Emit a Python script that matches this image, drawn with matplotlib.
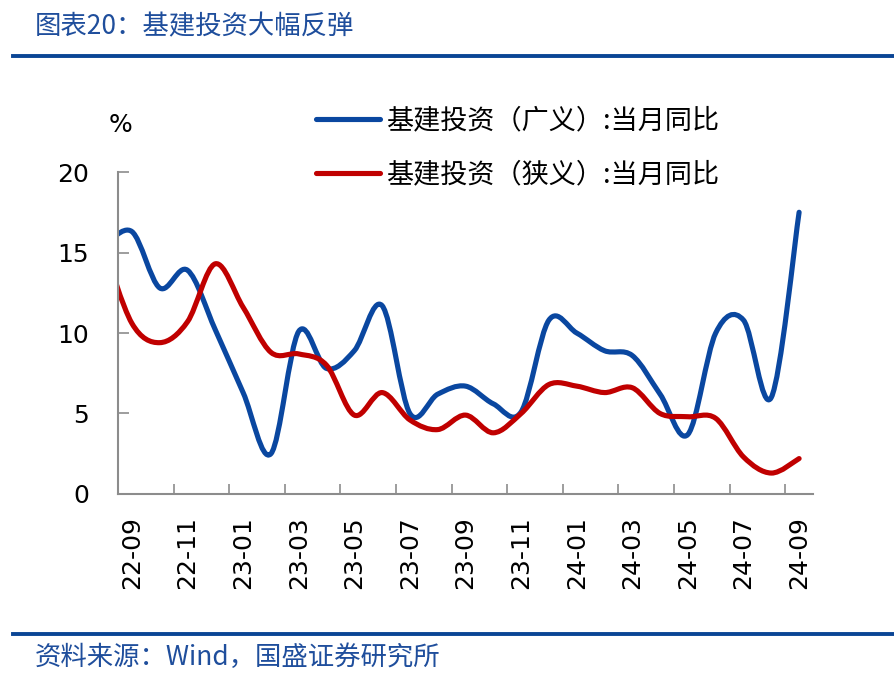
import numpy as np
import matplotlib
matplotlib.use('Agg')
import matplotlib.pyplot as plt
from matplotlib.path import Path
from matplotlib.patches import PathPatch
from matplotlib.lines import Line2D

plt.rcParams['font.family'] = ['DejaVu Sans', 'Noto Sans CJK SC']
plt.rcParams['axes.unicode_minus'] = False

# 月份（22-08 仅用于左端平滑，落在坐标轴外）
months = ['22-08', '22-09', '22-10', '22-11', '22-12', '23-01', '23-02', '23-03', '23-04',
          '23-05', '23-06', '23-07', '23-08', '23-09', '23-10', '23-11', '23-12',
          '24-01', '24-02', '24-03', '24-04', '24-05', '24-06', '24-07', '24-08', '24-09']
broad = [15.4, 16.3, 12.8, 13.9, 10.2, 6.3, 2.5, 10.1, 7.8, 8.9, 11.7, 5.0, 6.2, 6.7, 5.6,
         5.1, 10.8, 10.0, 8.9, 8.6, 6.2, 3.7, 10.0, 10.8, 6.0, 17.5]
narrow = [15.3, 10.6, 9.4, 10.7, 14.3, 11.6, 8.8, 8.7, 8.0, 4.9, 6.3, 4.6, 4.0, 4.9, 3.8,
          5.0, 6.8, 6.7, 6.3, 6.6, 5.0, 4.8, 4.7, 2.3, 1.3, 2.2]
tick_labels = months[1::2]

label_broad = '基建投资（广义）:当月同比'
label_narrow = '基建投资（狭义）:当月同比'
blue = '#0A47A0'
red = '#C00000'
gray = '#8C8C8C'
title_color = '#1F4E9C'


def smooth_path(xs, ys):
    # Excel 风格的平滑折线（Catmull-Rom 贝塞尔）
    pts = np.column_stack([xs, ys]).astype(float)
    n = len(pts)
    verts = [pts[0]]
    codes = [Path.MOVETO]
    for i in range(n - 1):
        p0 = pts[i - 1] if i > 0 else pts[i]
        p1 = pts[i]
        p2 = pts[i + 1]
        p3 = pts[i + 2] if i + 2 < n else pts[i + 1]
        verts += [p1 + (p2 - p0) / 6, p2 - (p3 - p1) / 6, p2]
        codes += [Path.CURVE4] * 3
    return Path(verts, codes)


x = np.arange(len(months)) - 1  # 22-09 -> 0

fig = plt.figure(figsize=(8.94, 6.84), dpi=100)
ax = fig.add_axes([0.132, 0.2778, 0.7774, 0.4707])

for ys, c in [(broad, blue), (narrow, red)]:
    patch = PathPatch(smooth_path(x, ys), fill=False, edgecolor=c, lw=3.7,
                      capstyle='round', joinstyle='round')
    ax.add_patch(patch)

ax.set_xlim(-0.5, 24.5)
ax.set_ylim(0, 20)
ax.set_yticks([0, 5, 10, 15, 20])
ax.set_xticks(np.arange(0, 25, 2))
ax.set_xticklabels(tick_labels, rotation=90)
ax.set_xticks(np.arange(-0.5, 24, 2), minor=True)

for s in ['top', 'right']:
    ax.spines[s].set_visible(False)
for s in ['left', 'bottom']:
    ax.spines[s].set_color(gray)
    ax.spines[s].set_linewidth(1.5)

ax.tick_params(axis='y', direction='in', length=8, width=1.2, color=gray, pad=21,
               labelsize=18)
ax.tick_params(axis='x', which='major', length=0, pad=16, labelsize=18)
ax.tick_params(axis='x', which='minor', direction='in', length=7, width=1.2, color=gray)

fig.text(120 / 894, 1 - 125 / 684, '%', fontsize=18, ha='center', va='center')

handles = [Line2D([], [], color=blue, lw=3.7, solid_capstyle='round'),
           Line2D([], [], color=red, lw=3.7, solid_capstyle='round')]
leg = ax.legend(handles, [label_broad, label_narrow], loc='upper left',
                bbox_to_anchor=(316 / 894, 1 - 107 / 684), bbox_transform=fig.transFigure,
                frameon=False, handlelength=2.35, handletextpad=0.25,
                labelspacing=1.02, borderpad=0, borderaxespad=0,
                prop={'family': ['Noto Sans CJK SC', 'DejaVu Sans'], 'size': 19.5})

# 标题与来源
fig.text(35 / 894, 1 - 27 / 684, '图表20：基建投资大幅反弹', fontsize=19, color=title_color,
         style='italic', ha='left', va='center', family=['Noto Sans CJK SC', 'DejaVu Sans'])
fig.add_artist(Line2D([13 / 894, 1], [1 - 56 / 684] * 2, color='#0A4595', lw=2.8))
fig.add_artist(Line2D([13 / 894, 1], [1 - 634 / 684] * 2, color='#0A4595', lw=2.8))
fig.text(35 / 894, 1 - 657 / 684, '资料来源：Wind，国盛证券研究所', fontsize=19, color=title_color,
         style='italic', ha='left', va='center', family=['Noto Sans CJK SC', 'DejaVu Sans'])

fig.savefig('out.png', dpi=100)
